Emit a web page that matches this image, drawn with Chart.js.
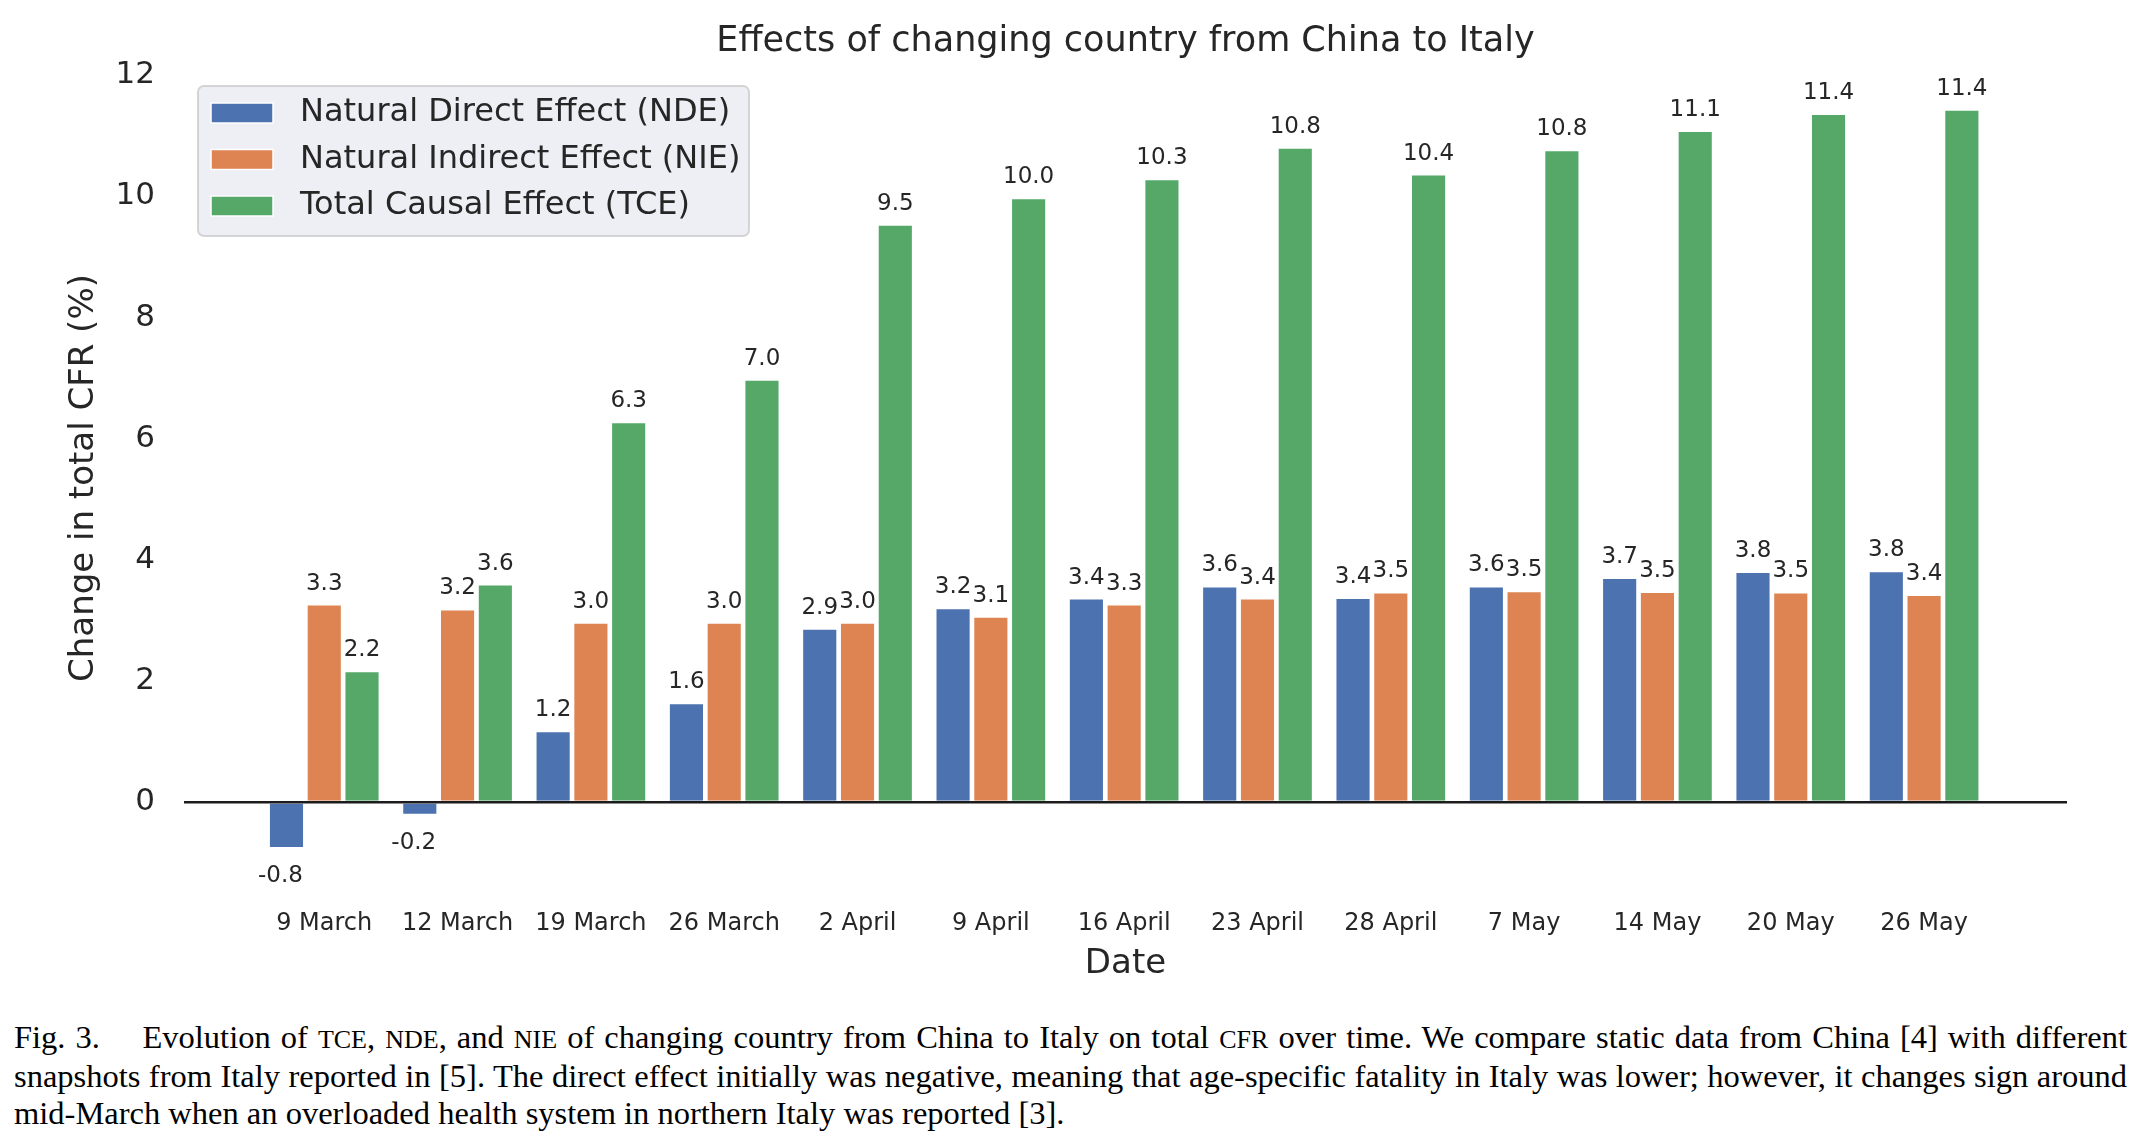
<!DOCTYPE html>
<html>
<head>
<meta charset="utf-8">
<script src="https://cdn.jsdelivr.net/npm/chart.js@4.4.0/dist/chart.umd.min.js"></script>
<style>
  body { margin: 0; background: #fff; width: 2151px; height: 1144px; overflow: hidden; position: relative; }
  #wrap { position: absolute; left: 0; top: 0; width: 2151px; height: 1000px; }
  canvas { display: block; }
  #caption { position: absolute; left: 14px; top: 1019px; width: 2113px; font-family: 'Liberation Serif', 'Times New Roman', serif; font-size: 32.5px; line-height: 37px; color: #000; }
  #caption .j { text-align: justify; text-align-last: justify; white-space: nowrap; }
  .sc { font-size: 0.8em; }
</style>
</head>
<body>
<div id="wrap"><canvas id="myChart" width="2151" height="1000"></canvas></div>
<div id="caption">
  <div class="j">Fig. 3.&emsp; Evolution of <span class="sc">TCE</span>, <span class="sc">NDE</span>, and <span class="sc">NIE</span> of changing country from China to Italy on total <span class="sc">CFR</span> over time. We compare static data from China [4] with different</div>
  <div class="j">snapshots from Italy reported in [5]. The direct effect initially was negative, meaning that age-specific fatality in Italy was lower; however, it changes sign around</div>
  <div>mid-March when an overloaded health system in northern Italy was reported [3].</div>
</div>
<script>
    const ctx = document.getElementById('myChart');

    var dates = ['9 March', '12 March', '19 March', '26 March', '2 April', '9 April', '16 April',
                 '23 April', '28 April', '7 May', '14 May', '20 May', '26 May'];
    var nde = [-0.76, -0.21, 1.17, 1.63, 2.86, 3.20, 3.36, 3.56, 3.37, 3.56, 3.70, 3.80, 3.81];
    var nie = [3.26, 3.18, 2.96, 2.96, 2.96, 3.06, 3.26, 3.36, 3.46, 3.48, 3.47, 3.46, 3.42];
    var tce = [2.16, 3.59, 6.27, 6.97, 9.53, 9.97, 10.28, 10.80, 10.36, 10.76, 11.08, 11.36, 11.43];
    var yTicks = [0, 2, 4, 6, 8, 10, 12];

    var barColors = ['#4c72b0', '#dd8452', '#55a868'];
    var textColor = '#262626';

    // value labels over (or under) each bar
    const barLabels = {
        id: 'barLabels',
        afterDatasetsDraw(chart) {
            const c = chart.ctx;
            c.save();
            c.font = '23px "DejaVu Sans"';
            c.fillStyle = textColor;
            c.textAlign = 'center';
            c.textBaseline = 'alphabetic';
            chart.data.datasets.forEach((ds, i) => {
                chart.getDatasetMeta(i).data.forEach((bar, j) => {
                    const v = ds.data[j];
                    const txt = (Math.round(v * 10) / 10).toFixed(1);
                    if (v >= 0) c.fillText(txt, bar.x, bar.y - 15);
                    else c.fillText(txt, bar.x - 6, bar.y + 34);
                });
            });
            c.restore();
        }
    };

    // legend box inside the plot, upper left
    const legendBox = {
        id: 'legendBox',
        afterDraw(chart) {
            const c = chart.ctx, a = chart.chartArea;
            const x0 = a.left + 14, y0 = a.top + 29, w = 551, h = 150;
            c.save();
            c.beginPath();
            c.roundRect(x0, y0, w, h, 6);
            c.fillStyle = 'rgba(234,234,242,0.8)';
            c.fill();
            c.strokeStyle = 'rgba(204,204,204,0.8)';
            c.lineWidth = 2;
            c.stroke();
            c.font = '32px "DejaVu Sans"';
            c.textBaseline = 'middle';
            c.textAlign = 'left';
            chart.data.datasets.forEach((ds, i) => {
                const cy = y0 + 27 + i * 46.5;
                c.fillStyle = ds.backgroundColor;
                c.fillRect(x0 + 13, cy - 10, 62, 20);
                c.strokeStyle = '#ffffff';
                c.lineWidth = 1.5;
                c.strokeRect(x0 + 13, cy - 10, 62, 20);
                c.fillStyle = textColor;
                c.fillText(ds.label, x0 + 102, cy);
            });
            c.restore();
        }
    };

    new Chart(ctx, {
        type: 'bar',
        data: {
            labels: dates.map((d, i) => i),
            datasets: [
                { label: 'Natural Direct Effect (NDE)', data: nde, backgroundColor: barColors[0] },
                { label: 'Natural Indirect Effect (NIE)', data: nie, backgroundColor: barColors[1] },
                { label: 'Total Causal Effect (TCE)', data: tce, backgroundColor: barColors[2] }
            ]
        },
        options: {
            responsive: false,
            animation: false,
            datasets: {
                bar: {
                    categoryPercentage: 0.85,
                    barPercentage: 0.93,
                    borderWidth: 1,
                    borderColor: 'rgba(255,255,255,0.45)'
                }
            },
            layout: { padding: { left: 0, right: 84, top: 0, bottom: 0 } },
            plugins: {
                legend: { display: false },
                tooltip: { enabled: false },
                title: {
                    display: true,
                    fullSize: false,
                    text: 'Effects of changing country from China to Italy',
                    color: textColor,
                    font: { family: 'DejaVu Sans', size: 35, weight: 'normal', lineHeight: 1 },
                    padding: { top: 24, bottom: -2 }
                }
            },
            scales: {
                x: {
                    type: 'linear',
                    min: -1.052,
                    max: 13.072,
                    offset: false,
                    grid: { offset: false, color: '#ffffff', lineWidth: 1.5, drawTicks: false },
                    border: { display: false },
                    afterBuildTicks: s => { s.ticks = dates.map((d, i) => ({ value: i })); },
                    afterFit: s => { s.height = 101; },
                    ticks: {
                        callback: v => dates[v],
                        color: textColor,
                        font: { family: 'DejaVu Sans', size: 24 },
                        padding: 10,
                        maxRotation: 0,
                        autoSkip: false
                    },
                    title: {
                        display: true,
                        text: 'Date',
                        color: textColor,
                        font: { family: 'DejaVu Sans', size: 34 },
                        padding: { top: 0, bottom: 15 }
                    }
                },
                y: {
                    min: -1.6,
                    max: 12.3,
                    afterBuildTicks: s => { s.ticks = yTicks.map(v => ({ value: v })); },
                    afterFit: s => { s.width = 184; },
                    grid: {
                        z: 1,
                        drawTicks: false,
                        color: c => (c.tick && c.tick.value === 0) ? '#1c1c1c' : 'rgba(0,0,0,0)',
                        lineWidth: 2.6
                    },
                    border: { display: false },
                    ticks: {
                        color: textColor,
                        font: { family: 'DejaVu Sans', size: 31 },
                        padding: 29
                    },
                    title: {
                        display: true,
                        text: 'Change in total CFR (%)',
                        color: textColor,
                        font: { family: 'DejaVu Sans', size: 34 },
                        padding: { top: 64, bottom: 0 }
                    }
                }
            }
        },
        plugins: [barLabels, legendBox]
    });
</script>
</body>
</html>
